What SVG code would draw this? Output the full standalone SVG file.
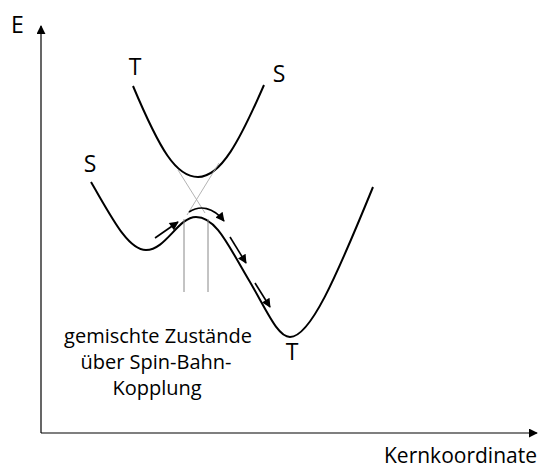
<svg xmlns="http://www.w3.org/2000/svg" width="544" height="468" viewBox="0 0 544 468">
<style>
text{font-family:"Open Sans","Noto Sans","Liberation Sans",sans-serif;fill:#000}
.lbl{font-size:23px}
.body{font-size:20px;text-anchor:middle}
.curve{fill:none;stroke:#000;stroke-width:2}
.axis{fill:none;stroke:#000;stroke-width:1.2}
.thin{fill:none;stroke:#888;stroke-width:1}
.faint{fill:none;stroke:#aaa;stroke-width:0.9}
.arr{fill:none;stroke:#000;stroke-width:1.6}
</style>
<defs>
<marker id="ah" viewBox="0 0 10 10" refX="9" refY="5" markerWidth="11" markerHeight="9" orient="auto" markerUnits="userSpaceOnUse">
<path d="M0,0 L10,5 L0,10 z" fill="#000"/>
</marker>
<marker id="axh" viewBox="0 0 10 10" refX="9" refY="5" markerWidth="9" markerHeight="9" orient="auto" markerUnits="userSpaceOnUse">
<path d="M0,0 L10,5 L0,10 z" fill="#000"/>
</marker>
</defs>
<g id="axes">
<path class="axis" d="M41,433 L41,26" marker-end="url(#axh)"/>
<path class="axis" d="M41,433 L537,433" marker-end="url(#axh)"/>
<text class="lbl" x="11" y="33">E</text>
<text class="lbl" x="384" y="463" style="font-size:21px">Kernkoordinate</text>
</g>
<g id="upper-curve">
<path class="curve" d="M133,86 C160,150 176,177 198,177 C221,177 240,140 264,85"/>
<text class="lbl" x="135" y="75" text-anchor="middle">T</text>
<text class="lbl" x="279" y="82" text-anchor="middle">S</text>
</g>
<g id="lower-curve">
<path class="curve" d="M91,182 C112,218 128,250 146,250 C166,250 178,217 196,217 C216,217 228,245 250,282 C268,313 278,337 290,337 C310,337 335,280 373,187"/>
<text class="lbl" x="90" y="172" text-anchor="middle">S</text>
<text class="lbl" x="292" y="360" text-anchor="middle">T</text>
</g>
<g id="crossing">
<path class="faint" d="M178,170 L205,213"/>
<path class="faint" d="M219,163 L187,215"/>
<path class="thin" d="M184,219 L184,292"/>
<path class="thin" d="M208,219 L208,292"/>
</g>
<g id="connectors">
<path class="arr" d="M155,238 L178,222" marker-end="url(#ah)"/>
<path class="arr" d="M189,212 C200,205 213,207 224,221" marker-end="url(#ah)"/>
<path class="arr" d="M230,237 L246,263" marker-end="url(#ah)"/>
<path class="arr" d="M255,283 L270,307" marker-end="url(#ah)"/>
</g>
<g id="label">
<text class="body" x="158" y="343">gemischte Zustände</text>
<text class="body" x="156" y="369">über Spin-Bahn-</text>
<text class="body" x="157" y="395">Kopplung</text>
</g>
</svg>
